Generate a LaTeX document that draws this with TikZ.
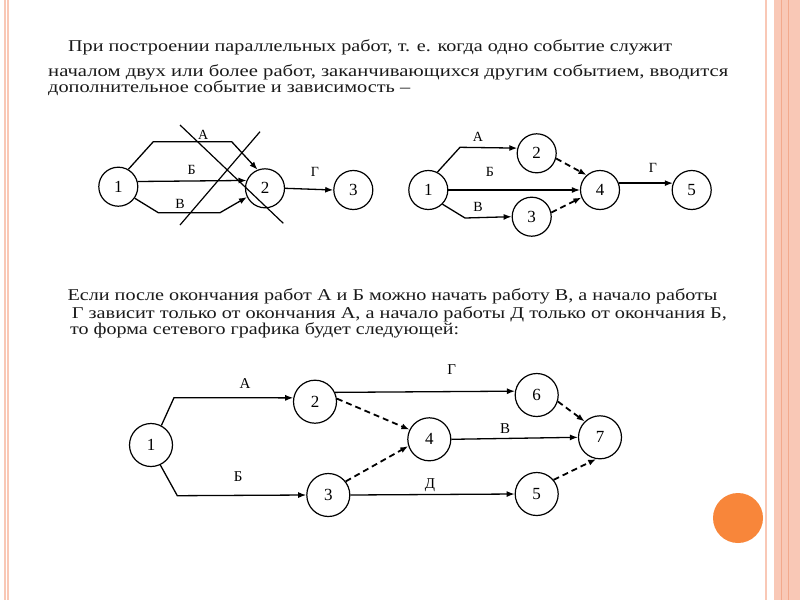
\documentclass[tikz,border=0pt]{standalone}
\usepackage{fontspec}
\setmainfont{Liberation Serif}
\usetikzlibrary{arrows.meta}

\definecolor{framepink}{HTML}{F9C8B6}
\definecolor{framedark}{HTML}{F3A98C}
\definecolor{dotorange}{HTML}{F8863A}
\definecolor{ink}{HTML}{1A1A1A}

% stretch one printed line to the width that it has on the slide
\newcommand{\fitline}[2]{\resizebox{#1}{\height}{#2}}

\begin{document}
\begin{tikzpicture}[
    x=1pt, y=-1pt,
    > = {Latex[length=8pt, width=6pt]},
    event/.style={circle, draw, line width=1.2pt, minimum size=39pt, inner sep=0pt,
        font=\fontsize{17}{17}\selectfont},
    bigevent/.style={event, minimum size=43pt, font=\fontsize{17}{17}\selectfont},
    work/.style={->, line width=1.3pt},
    dep/.style={->, line width=1.8pt, dash pattern=on 6pt off 4pt},
    lbl/.style={inner sep=0pt, font=\fontsize{14}{14}\selectfont},
    txt/.style={anchor=base west, inner sep=0pt, text=ink, font=\fontsize{16.5}{18}\selectfont}
]
    % Slide and its frame
    \useasboundingbox (0,0) rectangle (800,600);
    \fill[white] (0,0) rectangle (800,600);
    \draw[framepink, line width=2pt] (4.5,0) -- (4.5,600);
    \draw[framepink, line width=1.5pt] (8,0) -- (8,600);
    \draw[framepink, line width=1.5pt] (766,0) -- (766,600);
    \fill[framepink] (774,0) rectangle (800,600);
    \draw[framedark, line width=0.8pt] (781,0) -- (781,600);
    \draw[framedark, line width=0.8pt] (788,0) -- (788,600);
    \fill[dotorange] (738,518) circle (25);

    % First paragraph
    \node[txt] (p1) at (68,51.7) {\fitline{604pt}{При построении параллельных работ, т. е. когда одно событие служит}};
    \node[txt] (p2) at (48,76.7) {\fitline{680pt}{началом двух или более работ, заканчивающихся другим событием, вводится}};
    \node[txt] (p3) at (48,92.7) {\fitline{362pt}{дополнительное событие и зависимость –}};

    % Left network: parallel works, crossed out
    \node[event] (a1) at (118.3,186.7) {1};
    \node[event] (a2) at (265,188.3) {2};
    \node[event] (a3) at (353.3,190) {3};
    \draw[work] (a1.60) -- (153.3,141.7) -- (231.7,141.7) -- (a2.112);
    \draw[work] (a1.15) -- (a2.157);
    \draw[work] (a1.-35) -- (158.3,212.7) -- (220,212.7) -- (a2.206);
    \draw[work] (a2.east) -- (a3.west);
    \node[lbl] (la) at (203.3,135) {А};
    \node[lbl] (lb) at (191.7,170) {Б};
    \node[lbl] (lv) at (180,204) {В};
    \node[lbl] (lg) at (315,171.7) {Г};
    % the two strokes through it
    \draw[line width=1.2pt] (180,125) -- (283.3,223.3);
    \draw[line width=1.2pt] (260,131.7) -- (180,225);

    % Right network: extra events and dependencies
    \node[event] (b1) at (428.3,190) {1};
    \node[event] (b2) at (536.7,153.3) {2};
    \node[event] (b3) at (531.7,216.7) {3};
    \node[event] (b4) at (600,190) {4};
    \node[event] (b5) at (691.7,190) {5};
    \draw[work] (b1.63) -- (460,147.3) -- (b2.165);
    \draw[work] (b1.east) -- (b4.west);
    \draw[work] (b1.-45) -- (465,218) -- (b3.west);
    \draw[dep] (b2.-15) -- (b4.132);
    \draw[dep] (b3.12) -- (b4.202);
    \draw[work] (b4.20) -- (b5.160);
    \node[lbl] (ma) at (478,137) {А};
    \node[lbl] (mb) at (490,172) {Б};
    \node[lbl] (mv) at (478,207) {В};
    \node[lbl] (mg) at (653,168) {Г};

    % Second paragraph
    \node[txt] (q1) at (67.3,300.7) {\fitline{650pt}{Если после окончания работ А и Б можно начать работу В, а начало работы}};
    \node[txt] (q2) at (71.7,318.5) {\fitline{655pt}{Г зависит только от окончания А, а начало работы Д только от окончания Б,}};
    \node[txt] (q3) at (70,334) {\fitline{389pt}{то форма сетевого графика будет следующей:}};

    % Bottom network
    \node[bigevent] (c1) at (151,445) {1};
    \node[bigevent] (c2) at (315,401.7) {2};
    \node[bigevent] (c3) at (328.3,495) {3};
    \node[bigevent] (c4) at (429.3,439.3) {4};
    \node[bigevent] (c5) at (536.7,494) {5};
    \node[bigevent] (c6) at (536.7,395) {6};
    \node[bigevent] (c7) at (600,437.3) {7};
    \draw[work] (c1.62) -- (174,397.7) -- (c2.170);
    \draw[work] (c1.-65) -- (177.3,495.7) -- (c3.west);
    \draw[work] (c2.25) -- (c6.170);
    \draw[dep] (c2.8) -- (c4.154);
    \draw[dep] (c3.38) -- (c4.198);
    \draw[work] (c4.east) -- (c7.west);
    \draw[work] (c3.east) -- (c5.west);
    \draw[dep] (c6.-17) -- (c7.134);
    \draw[dep] (c5.40) -- (c7.260);
    \node[lbl, font=\fontsize{15}{15}\selectfont] (na) at (245,383.3) {А};
    \node[lbl, font=\fontsize{15}{15}\selectfont] (nb) at (238.3,476.7) {Б};
    \node[lbl, font=\fontsize{15}{15}\selectfont] (ng) at (451.7,370) {Г};
    \node[lbl, font=\fontsize{15}{15}\selectfont] (nv) at (505,428.3) {В};
    \node[lbl, font=\fontsize{15}{15}\selectfont] (nd) at (430,485) {Д};
\end{tikzpicture}
\end{document}
